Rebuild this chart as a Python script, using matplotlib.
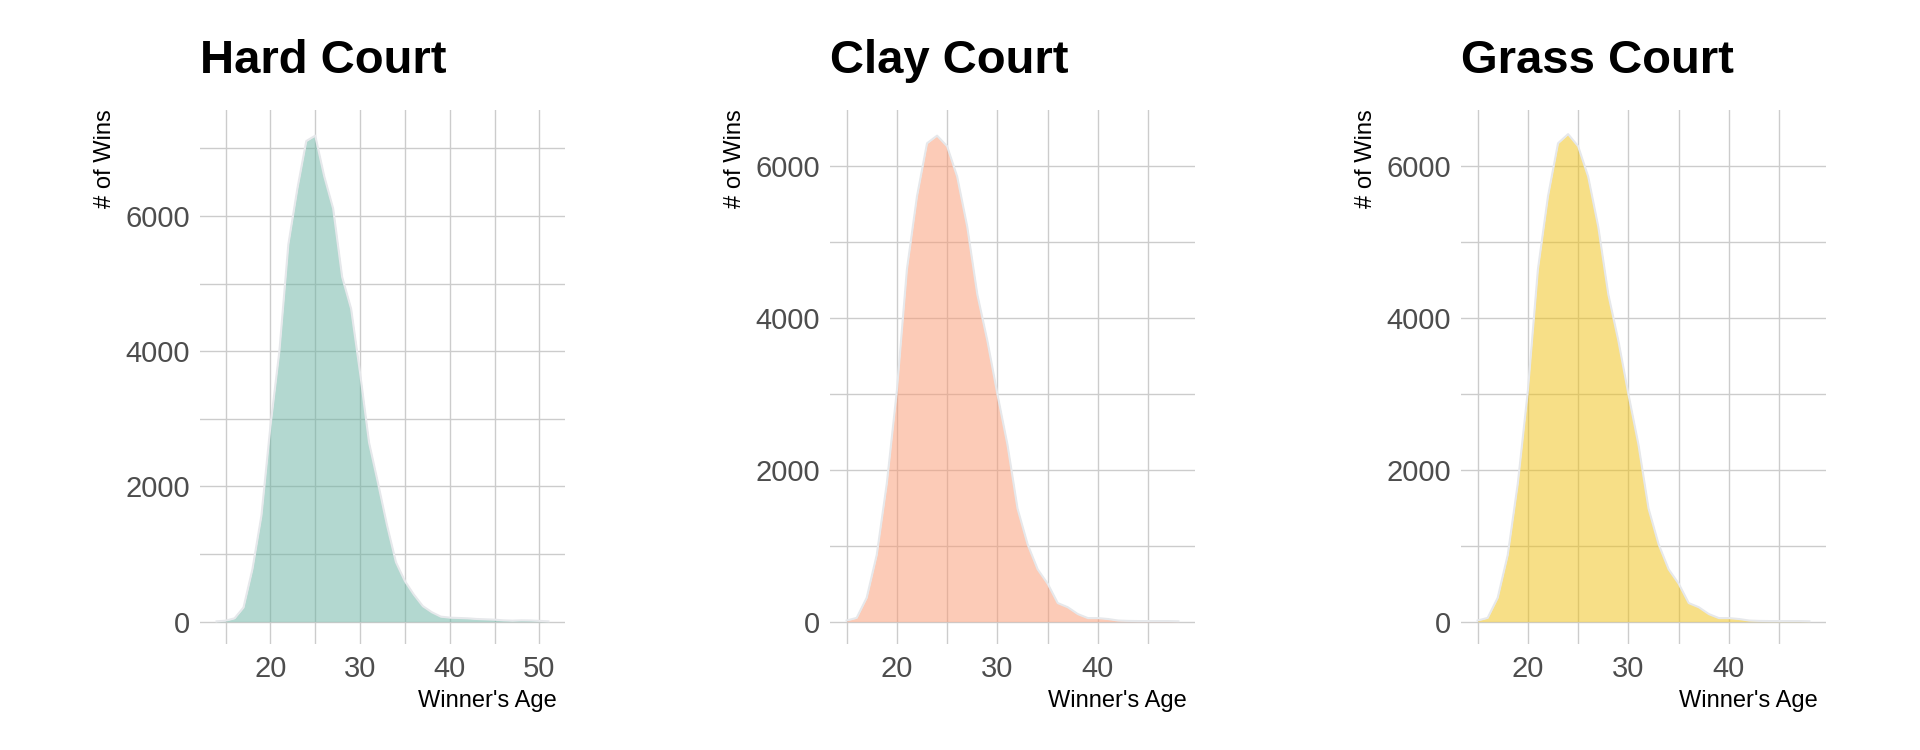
import matplotlib
matplotlib.use('Agg')
import matplotlib.pyplot as plt
from matplotlib.ticker import MultipleLocator

plt.rcParams['font.family'] = ['Liberation Sans', 'DejaVu Sans']

# wins by winner age
hard_ages = list(range(14, 52))
hard_wins = [5, 15, 50, 210, 780, 1570, 2890, 4000, 5580, 6400, 7110, 7190,
             6590, 6110, 5100, 4630, 3680, 2650, 2050, 1430, 880, 600, 400,
             230, 140, 75, 60, 55, 50, 40, 35, 30, 20, 15, 20, 18, 12, 5]

clay_ages = list(range(15, 49))
clay_wins = [15, 50, 315, 880, 1820, 3040, 4640, 5600, 6300, 6400, 6260, 5860,
             5200, 4310, 3700, 2995, 2330, 1490, 1020, 690, 500, 245, 190, 100,
             47, 47, 35, 15, 10, 8, 8, 8, 8, 5]

grass_ages = list(range(15, 49))
grass_wins = [15, 50, 315, 880, 1820, 3040, 4640, 5600, 6300, 6420, 6260, 5860,
              5200, 4310, 3700, 2995, 2330, 1490, 1020, 690, 500, 245, 190, 100,
              47, 47, 35, 15, 10, 8, 8, 8, 8, 5]

panels = [
    ("Hard Court", hard_ages, hard_wins, "#69b3a2", 200, (12.15, 52.85), (-330, 7575)),
    ("Clay Court", clay_ages, clay_wins, "#fb9971", 830, (13.35, 49.65), (-294, 6743)),
    ("Grass Court", grass_ages, grass_wins, "#f1c111", 1461, (13.35, 49.65), (-294, 6743)),
]

W, H = 1920, 750
top, bottom = 109.6, 644
fig = plt.figure(figsize=(W / 100, H / 100), dpi=100)

for title, ages, wins, color, left, xlim, ylim in panels:
    ax = fig.add_axes([left / W, (H - bottom) / H, 365 / W, (bottom - top) / H])
    ax.fill_between(ages, wins, color=color, alpha=0.5, lw=0, zorder=2)
    ax.plot(ages, wins, color='#e6e8eb', lw=1.5, zorder=3)
    ax.set_xlim(xlim)
    ax.set_ylim(ylim)
    ax.xaxis.set_major_locator(MultipleLocator(10))
    ax.xaxis.set_minor_locator(MultipleLocator(5))
    ax.yaxis.set_major_locator(MultipleLocator(2000))
    ax.yaxis.set_minor_locator(MultipleLocator(1000))
    ax.grid(which='both', color='#cccccc', lw=1)
    ax.set_axisbelow(True)
    for s in ax.spines.values():
        s.set_visible(False)
    ax.tick_params(which='both', length=0, labelsize=21, labelcolor='#4d4d4d')
    ax.tick_params(axis='x', pad=8)
    ax.tick_params(axis='y', pad=7)

    ax.text(-0.26, 1.0, '# of Wins', rotation=90, ha='center', va='top',
            fontsize=17, transform=ax.transAxes)
    ax.text(357 / 365, -(707 - bottom) / (bottom - top), "Winner's Age",
            ha='right', va='baseline', fontsize=17, transform=ax.transAxes)
    fig.text(left / W, 1 - 73 / H, title, fontsize=34, fontweight='bold',
             ha='left', va='baseline')

fig.savefig('out.png', dpi=100, facecolor='white')
